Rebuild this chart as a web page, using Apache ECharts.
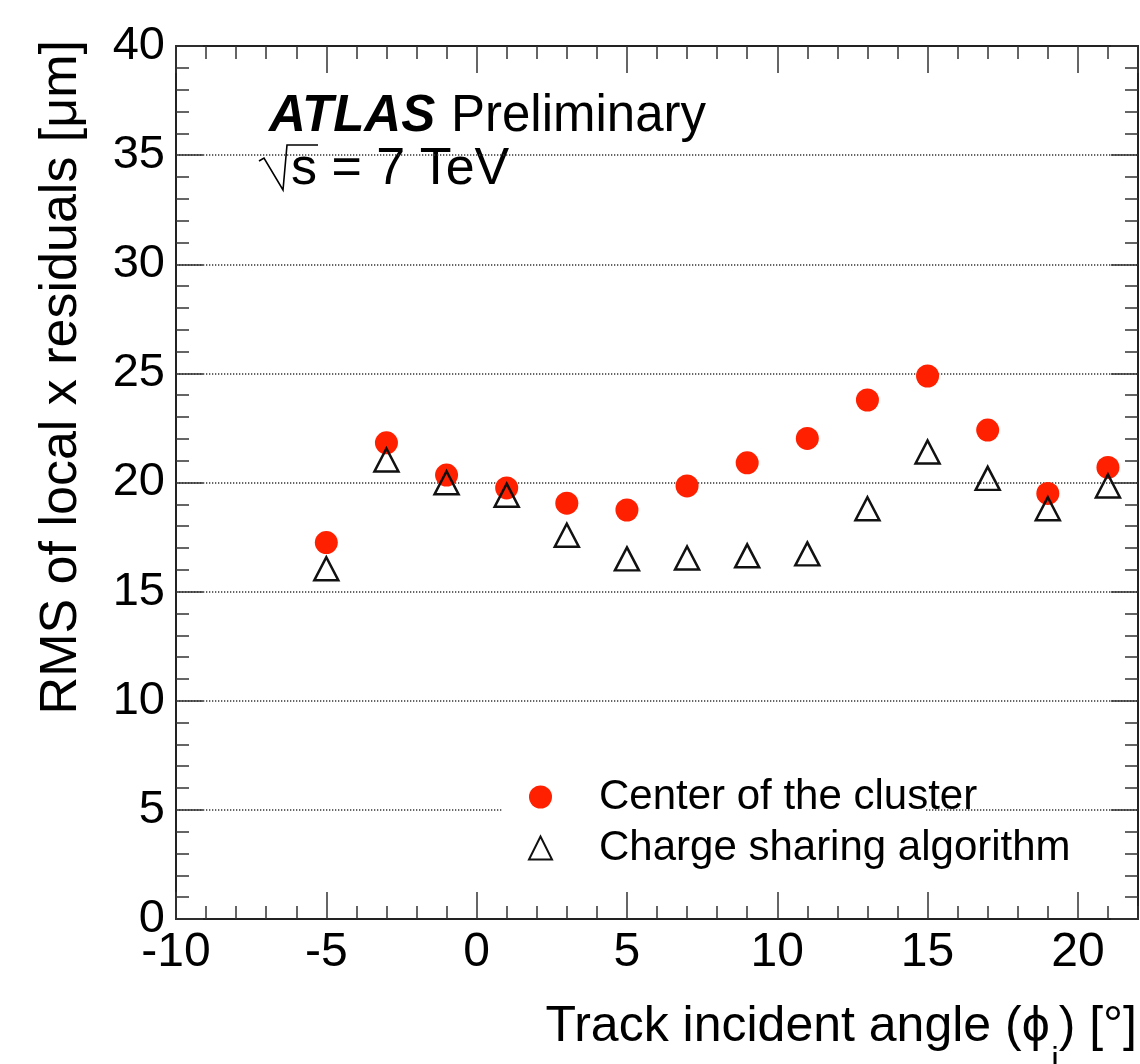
<!DOCTYPE html>
<html>
<head>
<meta charset="utf-8">
<script src="https://cdn.jsdelivr.net/npm/echarts@6/dist/echarts.min.js"></script>
<style>
  html, body { margin: 0; padding: 0; background: #fff; }
  #chart { width: 1140px; height: 1064px; }
</style>
</head>
<body>
<div id="chart"></div>
<script>
// ---- data ----
var angles = [-5, -3, -1, 1, 3, 5, 7, 9, 11, 13, 15, 17, 19, 21];
var centerOfCluster = [17.25, 21.82, 20.34, 19.75, 19.05, 18.74, 19.84, 20.90, 22.02, 23.78, 24.88, 22.40, 19.50, 20.69];
var chargeSharing = [16.05, 21.03, 19.99, 19.42, 17.58, 16.50, 16.54, 16.64, 16.73, 18.80, 21.40, 20.19, 18.80, 19.84];
var seriesNames = ['Center of the cluster', 'Charge sharing algorithm'];
var xRange = [-10, 22];
var yRange = [0, 40];
var xTitle = '{a|Track incident angle (ϕ}{g| }{a|) [°]}';
var xTitleSub = 'i';
var yTitle = 'RMS of local x residuals [μm]';

var FONT = '"Liberation Sans", Arial, Helvetica, sans-serif';
var AXIS_COLOR = '#222';

function pairs(xs, ys) {
  return xs.map(function (x, i) { return [x, ys[i]]; });
}

function xAxisDef(position, interval, tickLen, showLabel, showLine) {
  return {
    type: 'value', position: position, min: xRange[0], max: xRange[1], interval: interval,
    axisLine: { show: showLine, onZero: false, lineStyle: { color: AXIS_COLOR, width: 2 } },
    axisTick: { show: true, inside: true, length: tickLen, lineStyle: { color: '#333', width: 1.5 } },
    axisLabel: showLabel ? {
      show: true, fontFamily: FONT, fontSize: 48, color: '#000', margin: 10,
      showMaxLabel: false
    } : { show: false },
    splitLine: { show: false }
  };
}

var chart = echarts.init(document.getElementById('chart'), null, { renderer: 'canvas' });

var option = {
  backgroundColor: '#fff',
  animation: false,
  grid: { left: 176, right: 2, top: 46, bottom: 145, containLabel: false, outerBoundsMode: 'none' },
  xAxis: [
    xAxisDef('bottom', 5, 27, true, true),
    xAxisDef('bottom', 1, 13, false, false),
    xAxisDef('top', 5, 27, false, true),
    xAxisDef('top', 1, 13, false, false)
  ],
  yAxis: [
    {
      type: 'value', position: 'left', min: yRange[0], max: yRange[1], interval: 5,
      name: yTitle,
      nameLocation: 'end', nameGap: 6, nameRotate: 90,
      nameTruncate: { maxWidth: 2000 },
      nameTextStyle: {
        fontFamily: FONT, fontSize: 52, color: '#000',
        align: 'right', verticalAlign: 'bottom', padding: [0, 0, 88, 0]
      },
      axisLine: { show: true, onZero: false, lineStyle: { color: AXIS_COLOR, width: 2 } },
      axisTick: { show: true, inside: true, length: 27, lineStyle: { color: '#333', width: 1.5 } },
      minorTick: { show: true, splitNumber: 5, length: 13, lineStyle: { color: '#333', width: 1.5 } },
      axisLabel: { show: true, fontFamily: FONT, fontSize: 47, color: '#000', margin: 11 },
      splitLine: { show: true, lineStyle: { color: '#333', width: 1.5, type: [1.3, 1.7] } }
    },
    {
      type: 'value', position: 'right', min: yRange[0], max: yRange[1], interval: 5,
      axisLine: { show: true, onZero: false, lineStyle: { color: AXIS_COLOR, width: 2 } },
      axisTick: { show: true, inside: true, length: 27, lineStyle: { color: '#333', width: 1.5 } },
      minorTick: { show: true, splitNumber: 5, length: 13, lineStyle: { color: '#333', width: 1.5 } },
      axisLabel: { show: false },
      splitLine: { show: false }
    }
  ],
  legend: {
    orient: 'vertical',
    left: 528, top: 776,
    padding: 0,
    itemGap: 9,
    itemWidth: 23, itemHeight: 23,
    backgroundColor: 'transparent',
    textStyle: { fontFamily: FONT, fontSize: 42, color: '#000', padding: [0, 0, 0, 42] },
    data: seriesNames
  },
  graphic: [
    { type: 'rect', z: 1, shape: { x: 503, y: 790, width: 422, height: 40 }, style: { fill: '#fff' } },
    { type: 'text', x: 269, y: 117, style: { text: 'ATLAS', font: 'italic bold 51px ' + FONT, fill: '#000', verticalAlign: 'middle', align: 'left' } },
    { type: 'text', x: 451, y: 117, style: { text: 'Preliminary', font: '51px ' + FONT, fill: '#000', verticalAlign: 'middle', align: 'left' } },
    { type: 'polyline', shape: { points: [[259, 161], [264, 158], [283, 190], [287, 145], [318, 145]] }, style: { stroke: '#000', lineWidth: 1.6, fill: null } },
    { type: 'text', x: 291, y: 170, style: { text: 's = 7 TeV', font: '52px ' + FONT, fill: '#000', verticalAlign: 'middle', align: 'left' } },
    {
      type: 'text', x: 1137, y: 1027,
      style: {
        text: xTitle, align: 'right', verticalAlign: 'middle', fill: '#000',
        rich: {
          a: { fontFamily: FONT, fontSize: 50, lineHeight: 50, fill: '#000' },
          g: { fontFamily: FONT, fontSize: 50, lineHeight: 50, width: 9 }
        }
      }
    },
    { type: 'text', x: 1055, y: 1061, style: { text: xTitleSub, font: '34px ' + FONT, fill: '#000', align: 'center', verticalAlign: 'middle' } }
  ],
  series: [
    {
      name: seriesNames[0], type: 'scatter', xAxisIndex: 0, yAxisIndex: 0,
      symbol: 'circle', symbolSize: 23, z: 3,
      itemStyle: { color: '#ff2000', opacity: 1 },
      data: pairs(angles, centerOfCluster)
    },
    {
      name: seriesNames[1], type: 'scatter', xAxisIndex: 0, yAxisIndex: 0,
      symbol: 'triangle', symbolSize: [24, 23], z: 4,
      itemStyle: { color: 'rgba(255,255,255,0)', borderColor: '#111', borderWidth: 2.5, opacity: 1 },
      data: pairs(angles, chargeSharing)
    }
  ]
};

chart.setOption(option);
</script>
</body>
</html>
